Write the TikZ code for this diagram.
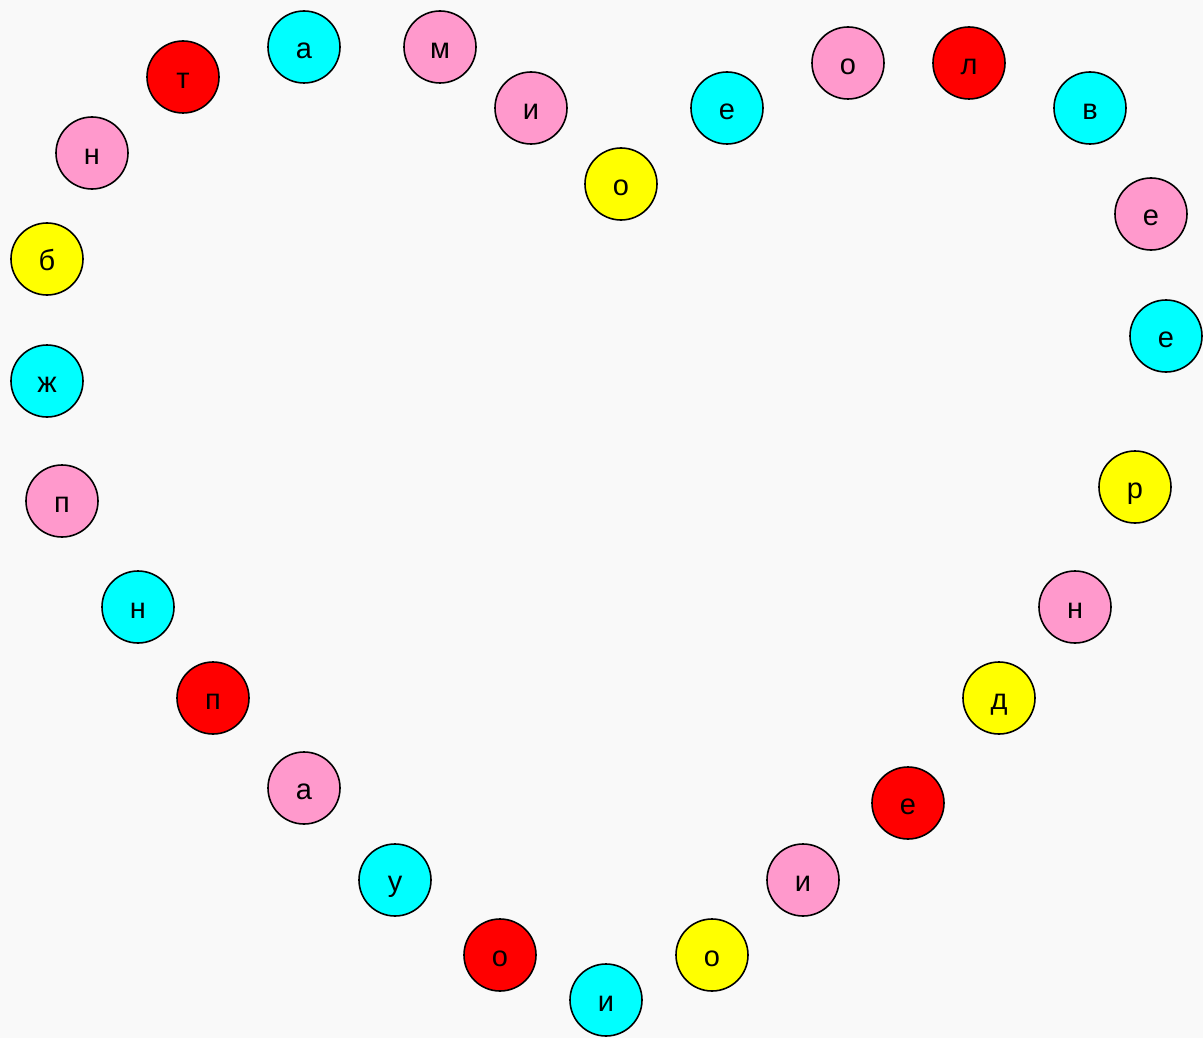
\documentclass[tikz,border=0pt]{standalone}
\usepackage{fontspec}
\setmainfont{Liberation Sans}
\definecolor{bgc}{HTML}{F9F9F9}
\definecolor{cred}{HTML}{FF0000}
\definecolor{ccyan}{HTML}{00FFFF}
\definecolor{cpink}{HTML}{FF99CC}
\definecolor{cyel}{HTML}{FFFF00}
\tikzset{
  ball/.style={circle, draw=black, line width=1.6pt, minimum size=72pt, inner sep=0pt,
    font=\fontsize{29}{29}\selectfont, text height=23pt, text depth=0pt},
  bred/.style={ball, fill=cred},
  bcyan/.style={ball, fill=ccyan},
  bpink/.style={ball, fill=cpink},
  byel/.style={ball, fill=cyel},
}
\begin{document}
\begin{tikzpicture}[x=1pt,y=-1pt]
\fill[bgc] (0,0) rectangle (1203,1038);
\useasboundingbox (0,0) rectangle (1203,1038);
\node[bred] (n1) at (183,77) {т};
\node[bcyan] (n2) at (304,47) {а};
\node[bpink] (n3) at (440,47) {м};
\node[bpink] (n4) at (531,108) {и};
\node[byel] (n5) at (621,184) {о};
\node[bcyan] (n6) at (727,108) {е};
\node[bpink] (n7) at (848,63) {о};
\node[bred] (n8) at (969,63) {л};
\node[bcyan] (n9) at (1090,108) {в};
\node[bpink] (n10) at (1151,214) {е};
\node[bcyan] (n11) at (1166,336) {е};
\node[byel] (n12) at (1135,487) {р};
\node[bpink] (n13) at (1075,607) {н};
\node[byel] (n14) at (999,698) {д};
\node[bred] (n15) at (908,803) {е};
\node[bpink] (n16) at (803,880) {и};
\node[byel] (n17) at (712,955) {о};
\node[bcyan] (n18) at (606,1000) {и};
\node[bred] (n19) at (500,955) {о};
\node[bcyan] (n20) at (395,880) {у};
\node[bpink] (n21) at (304,788) {а};
\node[bred] (n22) at (213,698) {п};
\node[bcyan] (n23) at (138,607) {н};
\node[bpink] (n24) at (62,501) {п};
\node[bcyan] (n25) at (47,381) {ж};
\node[byel] (n26) at (47,259) {б};
\node[bpink] (n27) at (92,153) {н};
\end{tikzpicture}
\end{document}
